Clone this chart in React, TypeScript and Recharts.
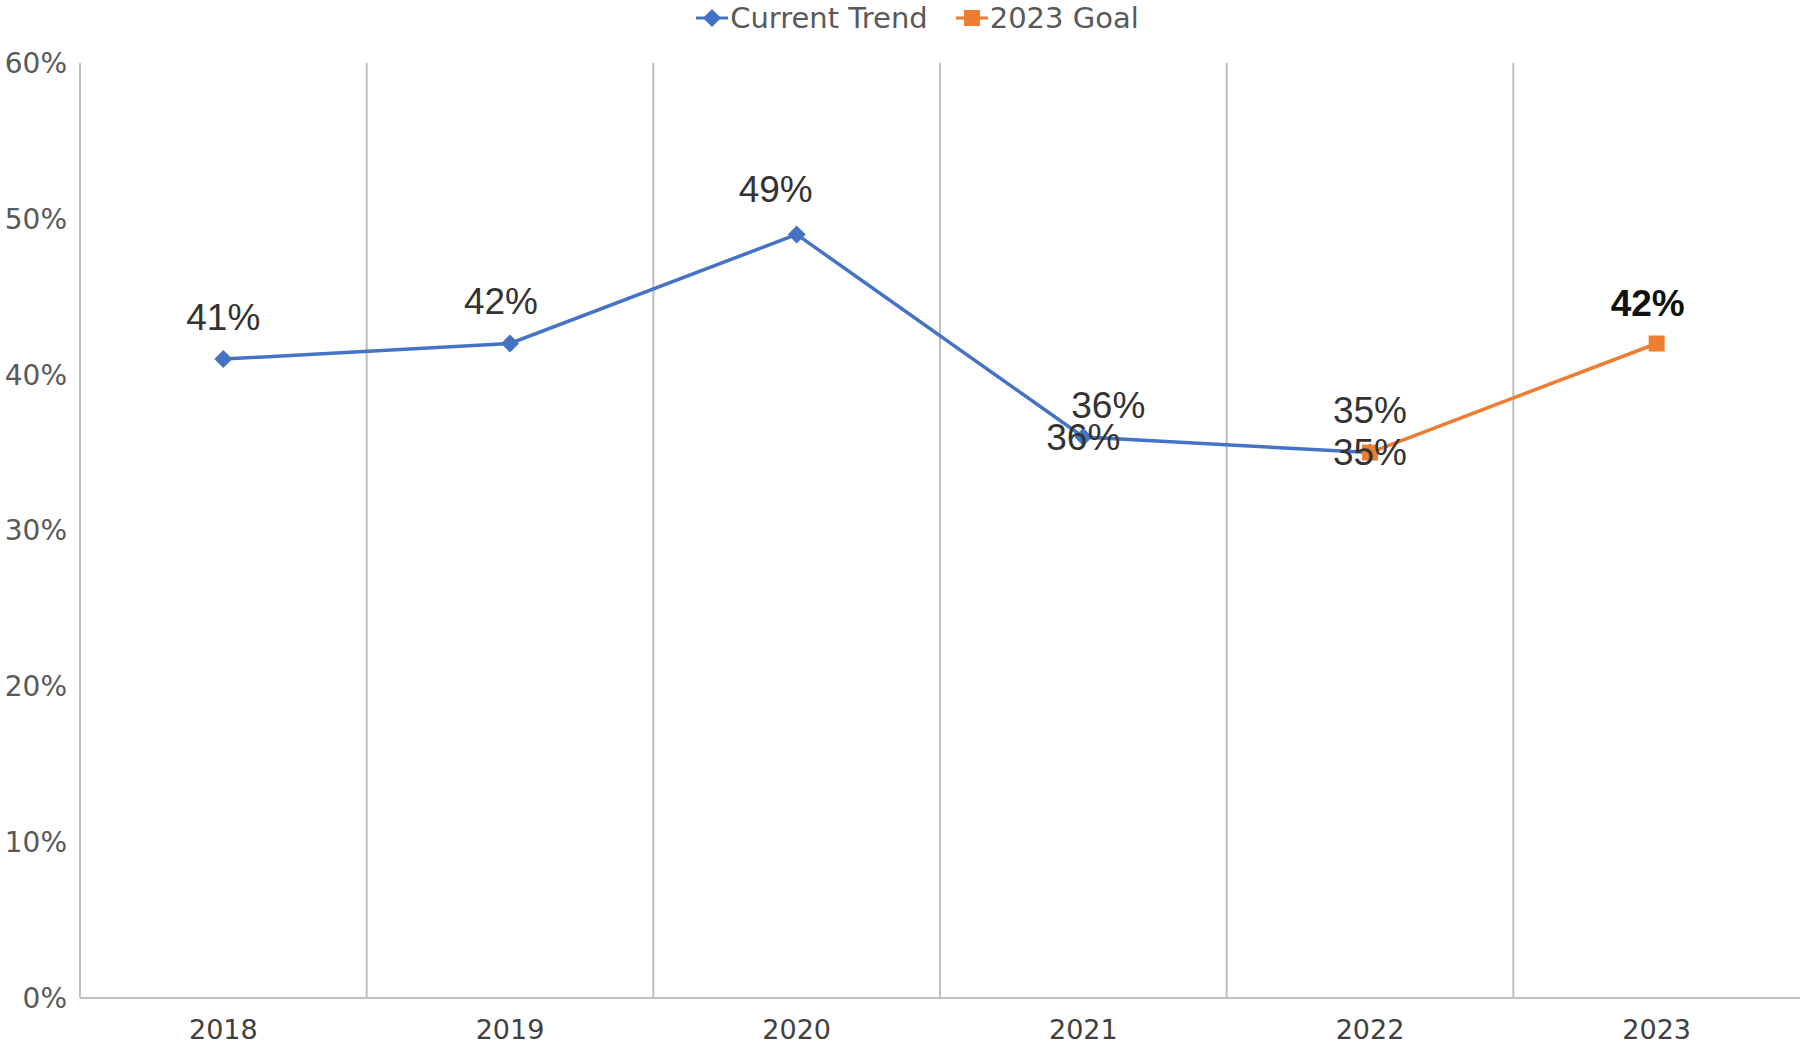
import React from 'react';
import { ComposedChart, Line, XAxis, YAxis, CartesianGrid, Legend, LabelList } from 'recharts';

const years = ['2018', '2019', '2020', '2021', '2022', '2023'];
const currentTrend = [41, 42, 49, 36, 35, null];
const goal2023 = [null, null, null, null, 35, 42];
// the source chart shows a second "36%" sitting right on the 2021 point
const trendEcho = [null, null, null, 36, null, null];
const yTicks = [0, 10, 20, 30, 40, 50, 60];
const legendOrder = ['trend', 'goal'];

const data = years.map((year, i) => ({
  year,
  trend: currentTrend[i],
  goal: goal2023[i],
  echo: trendEcho[i],
}));

const BLUE = '#4472C4';
const ORANGE = '#ED7D31';
const GRID = '#BFBFBF';
const LABEL_FONT = '"Liberation Sans", Arial, sans-serif';
const AXIS_FONT = '"DejaVu Sans", sans-serif';

// hand-placed label nudges [dx, dy] relative to the point, per year
const trendNudge: Record<string, [number, number]> = {
  '2018': [0, -42],
  '2019': [-9, -42],
  '2020': [-21, -45],
  '2021': [25, -32],
  '2022': [0, -42],
};

const makeLabel = (opts: { nudge?: Record<string, [number, number]>; above?: boolean; bold?: boolean }) =>
  (props: any) => {
    const { index, value } = props;
    const x = props.x ?? props.viewBox?.x;
    const y = props.y ?? props.viewBox?.y;
    if (value == null || x == null || y == null) return null;
    const [dx, dy] = opts.nudge?.[years[index]] ?? (opts.above ? [-9, -40] : [0, 0]);
    return (
      <text
        x={x + dx}
        y={y + dy}
        textAnchor="middle"
        dominantBaseline="central"
        fontFamily={LABEL_FONT}
        fontSize={37}
        fontWeight={opts.bold ? 700 : 400}
        fill={opts.bold ? '#111' : '#333'}
      >
        {`${value}%`}
      </text>
    );
  };

const Diamond = (props: any) => {
  const { cx, cy, value, index } = props;
  if (value == null || cy == null) return <g key={`d-${index}`} />;
  const r = 9;
  return (
    <path
      key={`d-${index}`}
      d={`M${cx},${cy - r}L${cx + r},${cy}L${cx},${cy + r}L${cx - r},${cy}Z`}
      fill={BLUE}
    />
  );
};

const Square = (props: any) => {
  const { cx, cy, value, index } = props;
  if (value == null || cy == null) return <g key={`s-${index}`} />;
  const h = 8;
  return <rect key={`s-${index}`} x={cx - h} y={cy - h} width={h * 2} height={h * 2} fill={ORANGE} />;
};

const renderLegend = (props: any) => {
  const items = (props.payload || [])
    .filter((p: any) => p.type !== 'none')
    .sort((a: any, b: any) => legendOrder.indexOf(a.dataKey) - legendOrder.indexOf(b.dataKey));
  return (
    <div style={{ display: 'flex', justifyContent: 'center', alignItems: 'center', height: 36, paddingLeft: 62 }}>
      {items.map((p: any) => (
        <div key={p.value} style={{ display: 'flex', alignItems: 'center', marginRight: 28 }}>
          <svg width={32} height={24}>
            <line x1={0} y1={12} x2={32} y2={12} stroke={p.color} strokeWidth={3} />
            {p.dataKey === 'trend' ? (
              <path d="M16,3L25,12L16,21L7,12Z" fill={p.color} />
            ) : (
              <rect x={8} y={4} width={16} height={16} fill={p.color} />
            )}
          </svg>
          <span style={{ fontFamily: AXIS_FONT, fontSize: 29, color: '#595959', marginLeft: 2 }}>{p.value}</span>
        </div>
      ))}
    </div>
  );
};

export default function App() {
  return (
    <div style={{ position: 'absolute', left: 0, top: 0, width: 1801, height: 1048, background: '#fff' }}>
      <ComposedChart width={1801} height={1048} data={data} margin={{ top: 27, right: 1, bottom: 0, left: 0 }}>
        <CartesianGrid
          horizontal={false}
          stroke={GRID}
          strokeWidth={2}
          verticalCoordinatesGenerator={({ offset }: any) =>
            years.slice(1).map((_, i) => offset.left + ((i + 1) * offset.width) / years.length)
          }
        />
        <XAxis
          dataKey="year"
          scale="band"
          axisLine={{ stroke: GRID, strokeWidth: 2 }}
          tickLine={false}
          tickSize={0}
          tickMargin={22}
          height={50}
          tick={{ fill: '#404040', fontSize: 27, fontFamily: AXIS_FONT }}
        />
        <YAxis
          domain={[0, 60]}
          ticks={yTicks}
          width={80}
          axisLine={{ stroke: GRID, strokeWidth: 2 }}
          tickLine={false}
          tickSize={0}
          tickMargin={13}
          tickFormatter={(v: number) => `${v}%`}
          tick={{ fill: '#595959', fontSize: 28, fontFamily: AXIS_FONT }}
        />
        <Legend verticalAlign="top" align="center" height={36} content={renderLegend} wrapperStyle={{ top: 0, left: 0, width: 1801 }} />
        <Line
          dataKey="trend"
          name="Current Trend"
          stroke={BLUE}
          strokeWidth={3.5}
          dot={Diamond}
          activeDot={false}
          isAnimationActive={false}
        >
          <LabelList dataKey="trend" content={makeLabel({ nudge: trendNudge })} />
        </Line>
        <Line
          dataKey="goal"
          name="2023 Goal"
          stroke={ORANGE}
          strokeWidth={3.5}
          dot={Square}
          activeDot={false}
          isAnimationActive={false}
        >
          <LabelList
            dataKey="goal"
            content={(p: any) => (p.index === years.length - 1 ? makeLabel({ above: true, bold: true })(p) : makeLabel({})(p))}
          />
        </Line>
        <Line
          dataKey="echo"
          stroke="none"
          dot={false}
          activeDot={false}
          legendType="none"
          isAnimationActive={false}
        >
          <LabelList dataKey="echo" content={makeLabel({})} />
        </Line>
      </ComposedChart>
    </div>
  );
}
